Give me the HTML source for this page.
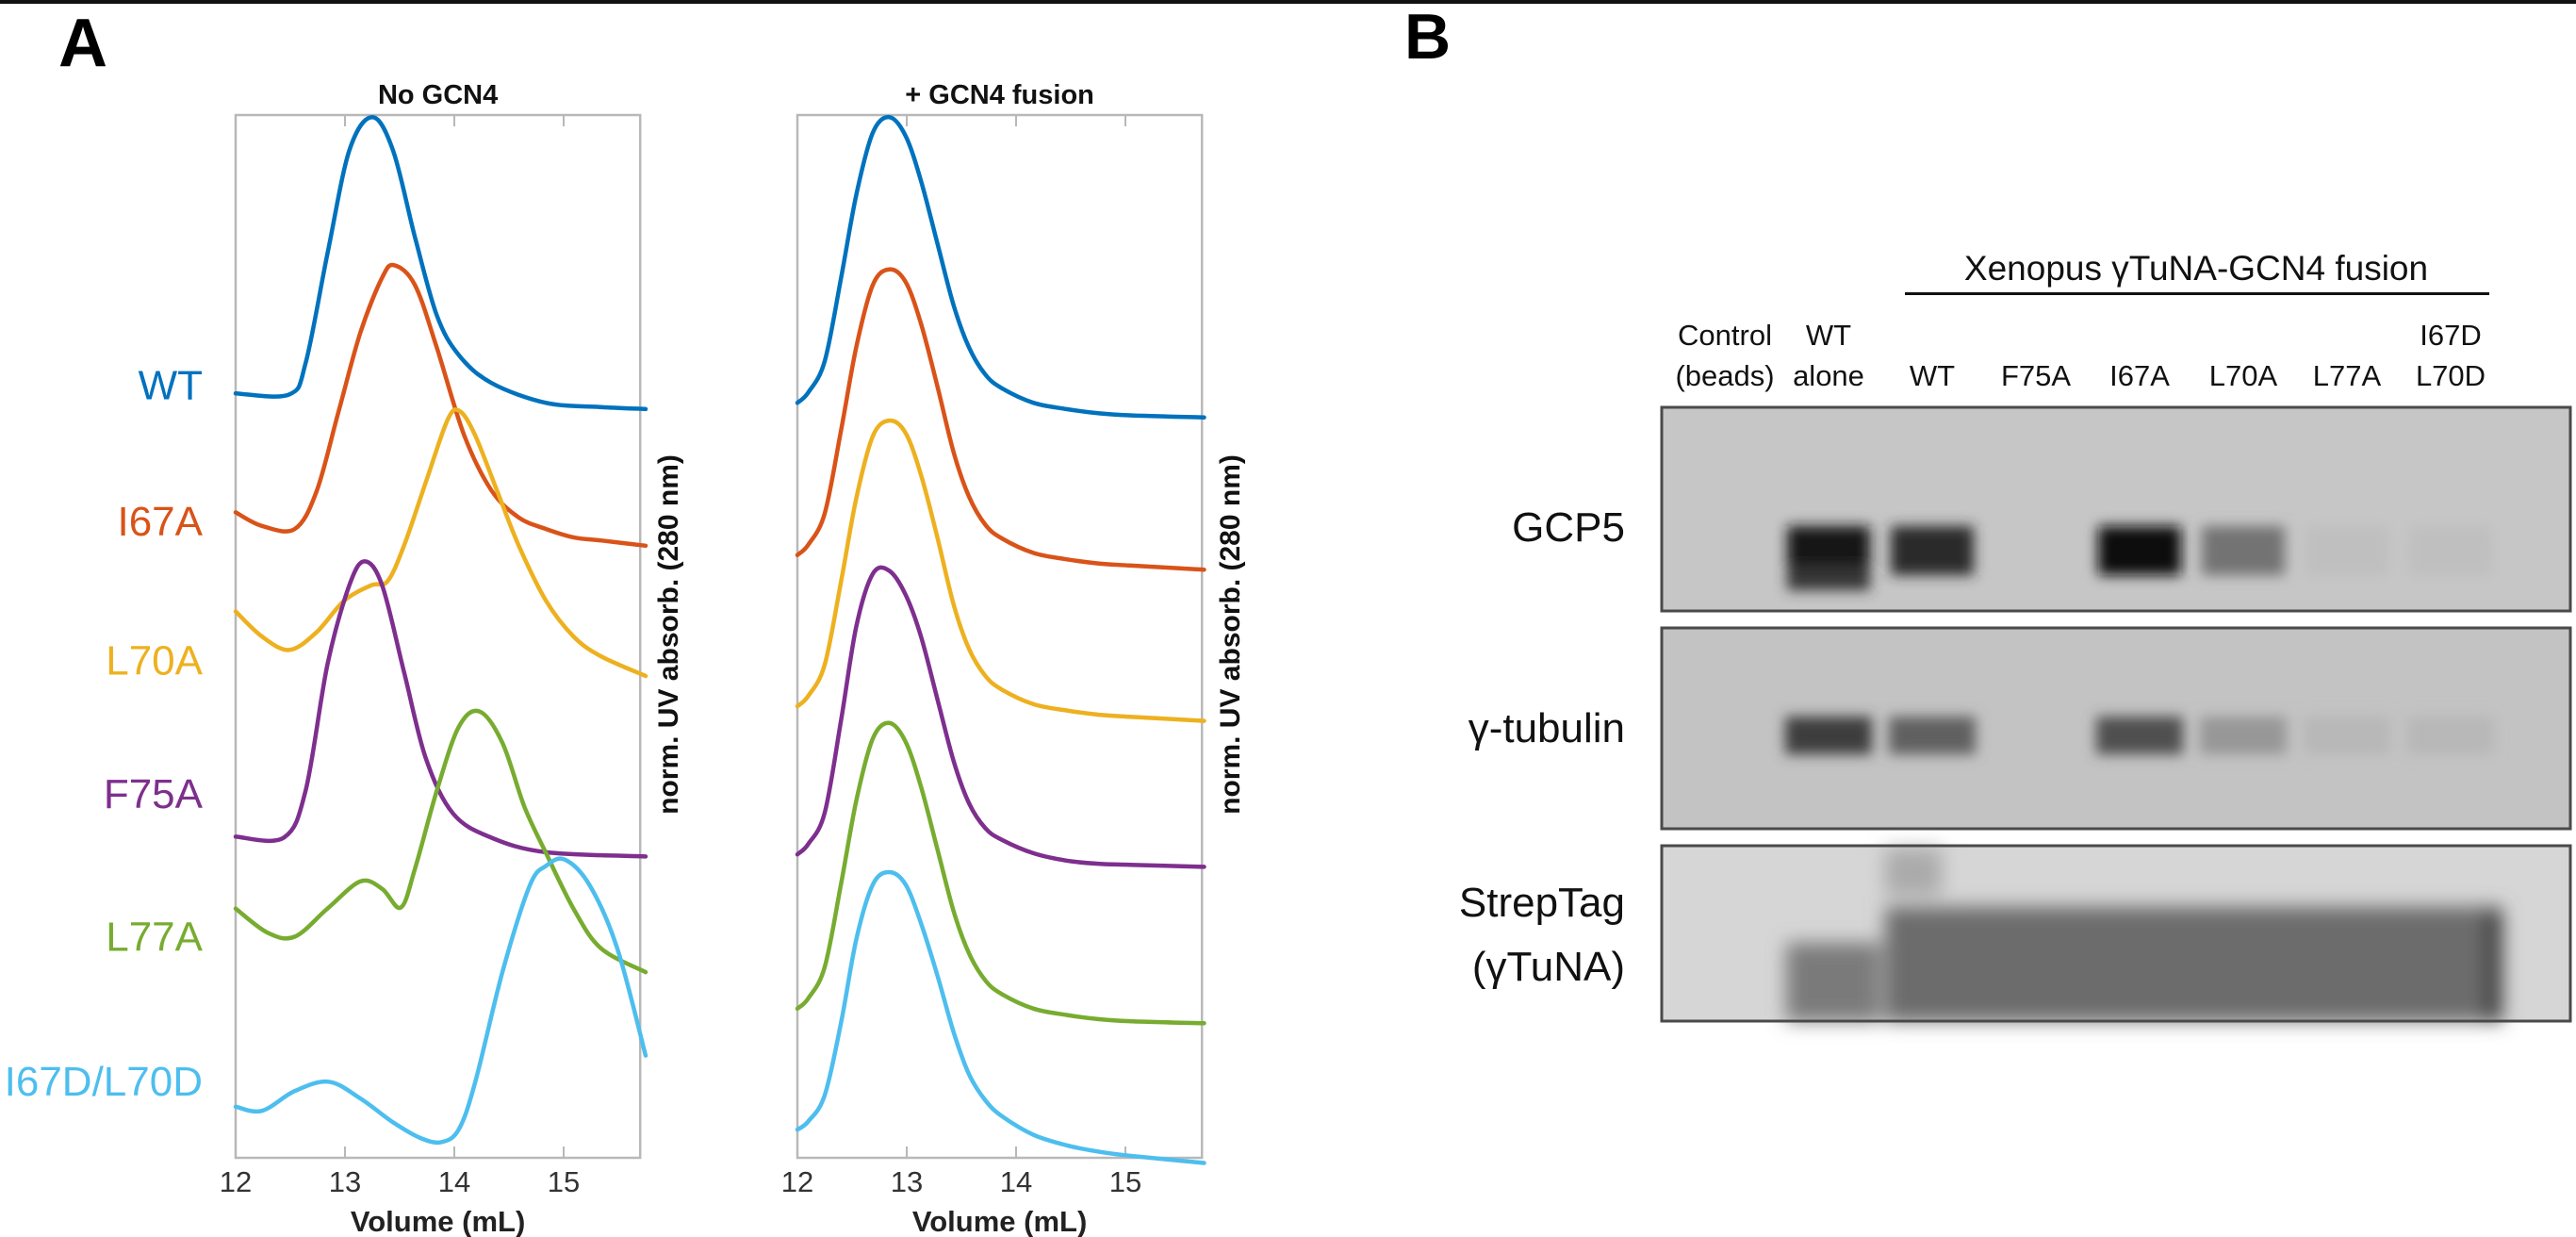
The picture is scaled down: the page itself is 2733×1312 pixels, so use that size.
<!DOCTYPE html>
<html><head><meta charset="utf-8"><style>
html,body{margin:0;padding:0;background:#fff;}
svg{display:block;font-family:"Liberation Sans","Noto Sans CJK SC",sans-serif;}
</style></head><body>
<svg id="fig" width="2733" height="1312" viewBox="0 0 2733 1312" xmlns="http://www.w3.org/2000/svg">
<defs>
<filter id="blur" x="-30%" y="-60%" width="160%" height="220%"><feGaussianBlur stdDeviation="7"/></filter>
<filter id="blur2" x="-10%" y="-30%" width="120%" height="160%"><feGaussianBlur stdDeviation="10"/></filter>
</defs>
<rect x="0" y="0" width="2733" height="4" fill="#111"/>
<text x="62" y="70" font-size="72" font-weight="bold">A</text>
<text x="1490" y="62" font-size="68" font-weight="bold">B</text>
<g id="chartA"></g>
<g id="gel"></g>
</svg>
<script>
// ---- Chart data ----
const seriesNames = ["WT","I67A","L70A","F75A","L77A","I67D/L70D"];
const seriesColors = ["#0072BD","#D95319","#EDB120","#7E2F8E","#77AC30","#4DBEEE"];
const xTicks = [12,13,14,15];
// No GCN4 panel (volume mL, normalized stacked absorbance)
const noWT_x = [12,12.49,12.64,12.84,13.04,13.25,13.44,13.64,13.84,14.04,14.34,14.84,15.34,15.75];
const noWT_y = [0.733,0.732,0.762,0.867,0.966,0.998,0.966,0.883,0.808,0.770,0.743,0.724,0.720,0.718];
const noI67A_x = [12,12.24,12.54,12.74,12.94,13.14,13.34,13.45,13.64,13.84,14.09,14.34,14.59,14.84,15.09,15.34,15.75];
const noI67A_y = [0.619,0.606,0.603,0.639,0.715,0.791,0.844,0.856,0.837,0.777,0.693,0.640,0.614,0.603,0.595,0.592,0.587];
const noL70A_x = [12,12.24,12.49,12.74,12.99,13.24,13.39,13.54,13.74,13.94,14.05,14.19,14.39,14.59,14.84,15.09,15.34,15.75];
const noL70A_y = [0.524,0.500,0.487,0.504,0.534,0.549,0.553,0.587,0.648,0.708,0.716,0.693,0.640,0.587,0.534,0.500,0.481,0.462];
const noF75A_x = [12,12.44,12.64,12.84,13.04,13.18,13.34,13.54,13.74,13.99,14.34,14.84,15.75];
const noF75A_y = [0.308,0.307,0.352,0.473,0.549,0.572,0.549,0.466,0.383,0.330,0.307,0.293,0.289];
const noL77A_x = [12,12.29,12.54,12.84,13.14,13.34,13.51,13.64,13.84,14.04,14.23,14.44,14.64,14.84,15.09,15.34,15.75];
const noL77A_y = [0.239,0.216,0.212,0.239,0.265,0.258,0.240,0.277,0.352,0.413,0.428,0.398,0.337,0.292,0.239,0.201,0.178];
const noDD_x = [12,12.24,12.54,12.85,13.14,13.44,13.69,13.88,14.04,14.19,14.44,14.69,14.84,15.01,15.24,15.49,15.75];
const noDD_y = [0.049,0.045,0.064,0.073,0.057,0.034,0.019,0.015,0.027,0.072,0.178,0.261,0.280,0.286,0.261,0.201,0.098];
// + GCN4 fusion panel
const fuse_x = [12.0,12.10,12.25,12.40,12.54,12.69,12.84,12.99,13.13,13.28,13.43,13.57,13.72,13.87,14.16,14.46,14.75,15.04,15.72];
const fuseWT_y = [0.724,0.734,0.764,0.844,0.924,0.983,0.998,0.980,0.937,0.877,0.817,0.777,0.751,0.738,0.724,0.718,0.714,0.712,0.710];
const fuseI67A_y = [0.578,0.588,0.618,0.698,0.778,0.837,0.852,0.840,0.800,0.740,0.676,0.634,0.607,0.594,0.580,0.574,0.570,0.568,0.564];
const fuseL70A_y = [0.433,0.443,0.473,0.553,0.633,0.692,0.707,0.695,0.655,0.595,0.530,0.488,0.462,0.449,0.435,0.429,0.425,0.423,0.419];
const fuseF75A_y = [0.291,0.301,0.331,0.420,0.510,0.560,0.563,0.540,0.500,0.440,0.380,0.340,0.316,0.305,0.292,0.285,0.282,0.281,0.279];
const fuseL77A_y = [0.143,0.153,0.183,0.263,0.343,0.402,0.417,0.399,0.356,0.296,0.236,0.196,0.170,0.157,0.143,0.137,0.133,0.131,0.129];
const fuseDD_y = [0.027,0.035,0.060,0.130,0.210,0.262,0.274,0.262,0.225,0.175,0.120,0.080,0.055,0.040,0.022,0.012,0.006,0.002,-0.005];
const labelValues = [0.742,0.611,0.478,0.350,0.213,0.074];

const NS = "http://www.w3.org/2000/svg";
function mk(tag, attrs, parent){ const e=document.createElementNS(NS,tag); for(const k in attrs) e.setAttribute(k,attrs[k]); parent.appendChild(e); return e; }

const plotTop=122, plotBot=1228;
function yScale(v){ return plotBot - v*(plotBot-plotTop); }
function makeX(x0){ return v => x0 + (v-12)*116; }
function smoothPath(pts){
  let d='M'+pts[0][0].toFixed(1)+','+pts[0][1].toFixed(1);
  for(let i=0;i<pts.length-1;i++){
    const p0=pts[Math.max(0,i-1)], p1=pts[i], p2=pts[i+1], p3=pts[Math.min(pts.length-1,i+2)];
    const c1x=p1[0]+(p2[0]-p0[0])/6, c1y=p1[1]+(p2[1]-p0[1])/6;
    const c2x=p2[0]-(p3[0]-p1[0])/6, c2y=p2[1]-(p3[1]-p1[1])/6;
    d+=`C${c1x.toFixed(1)},${c1y.toFixed(1)} ${c2x.toFixed(1)},${c2y.toFixed(1)} ${p2[0].toFixed(1)},${p2[1].toFixed(1)}`;
  }
  return d;
}

const chartA=document.getElementById('chartA');
function drawPanel(x0, title, xsList, ysList, key){
  const xs=makeX(x0), right=xs(15.7);
  const g=mk('g',{},chartA);
  
  
  const box=mk('rect',{x:x0,y:plotTop,width:right-x0,height:plotBot-plotTop,fill:'none',stroke:'#b8b8b8','stroke-width':2.5},g);
  
  
  xTicks.forEach(t=>{
    const X=xs(t);
    if(t>12){
      const a=mk('line',{x1:X,x2:X,y1:plotTop,y2:plotTop+12,stroke:'#b8b8b8','stroke-width':2},g);
      
      
      const b=mk('line',{x1:X,x2:X,y1:plotBot,y2:plotBot-12,stroke:'#b8b8b8','stroke-width':2},g);
      
      
    }
    const tl=mk('text',{x:X,y:1264,'font-size':31,'text-anchor':'middle',fill:'#333'},g);
    tl.textContent=t;
    
    
  });
  const xt=mk('text',{x:(x0+right)/2,y:1306,'font-size':31,'font-weight':'bold','text-anchor':'middle',fill:'#222'},g);
  xt.textContent='Volume (mL)';
  
  
  const tt=mk('text',{x:(x0+right)/2,y:110,'font-size':29,'font-weight':'bold','text-anchor':'middle',fill:'#111'},g);
  tt.textContent=title;
  
  
  const yl=mk('text',{x:0,y:0,'font-size':30,'font-weight':'bold','text-anchor':'middle',fill:'#111',transform:`translate(${right+40},673) rotate(-90)`},g);
  yl.textContent='norm. UV absorb. (280 nm)';
  
  
  ysList.forEach((ys,i)=>{
    const xv=xsList[i];
    const pts=ys.map((v,j)=>[xs(xv[j]), yScale(v)]);
    const p=mk('path',{d:smoothPath(pts),fill:'none',stroke:seriesColors[i],'stroke-width':4.5,'stroke-linejoin':'round','stroke-linecap':'round'},g);
    
    
  });
}
drawPanel(250,'No GCN4',[noWT_x,noI67A_x,noL70A_x,noF75A_x,noL77A_x,noDD_x],[noWT_y,noI67A_y,noL70A_y,noF75A_y,noL77A_y,noDD_y],'no-gcn4');
drawPanel(846,'+ GCN4 fusion',[fuse_x,fuse_x,fuse_x,fuse_x,fuse_x,fuse_x],[fuseWT_y,fuseI67A_y,fuseL70A_y,fuseF75A_y,fuseL77A_y,fuseDD_y],'gcn4-fusion');
seriesNames.forEach((n,i)=>{
  const t=mk('text',{x:215,y:yScale(labelValues[i])+16,'font-size':44,'text-anchor':'end',fill:seriesColors[i]},chartA);
  t.textContent=n;
  
  
});

// ---- Gel (panel B) ----
const laneNames1 = ["Control","WT","","","","","","I67D"];
const laneNames2 = ["(beads)","alone","WT","F75A","I67A","L70A","L77A","L70D"];
const gcp5Intensity = [0,0.95,0.85,0,1,0.45,0.03,0.03];
const tubIntensity = [0,0.75,0.55,0,0.65,0.25,0.07,0.07];
const gel=document.getElementById('gel');
function laneX(i){ return 1830 + i*110; }
function shade(v){ const c=Math.round(196-v*180); return `rgb(${c},${c},${c})`; }

const ttl=mk('text',{x:2330,y:297,'font-size':37,'text-anchor':'middle',fill:'#111'},gel);
ttl.textContent='Xenopus γTuNA-GCN4 fusion';


const ul=mk('rect',{x:2021,y:310,width:620,height:3,fill:'#111'},gel);


laneNames1.forEach((n,i)=>{ if(!n) return;
  const t=mk('text',{x:laneX(i),y:366,'font-size':31,'text-anchor':'middle',fill:'#111'},gel);
  t.textContent=n;
  
  
});
laneNames2.forEach((n,i)=>{
  const t=mk('text',{x:laneX(i),y:409,'font-size':31,'text-anchor':'middle',fill:'#111'},gel);
  t.textContent=n;
  
  
});
const panels=[{y:432,h:216,name:'gcp5-blot',bg:'#c6c6c6'},{y:666,h:213,name:'gamma-tubulin-blot',bg:'#c3c3c3'},{y:897,h:186,name:'streptag-blot',bg:'#d6d6d6'}];
const rowLabels=[['GCP5',574],['γ-tubulin',787],['StrepTag',972],['(γTuNA)',1040]];
rowLabels.forEach(r=>{
  const t=mk('text',{x:1724,y:r[1],'font-size':44,'text-anchor':'end',fill:'#111'},gel);
  t.textContent=r[0];
  
  
});
panels.forEach(p=>{
  const r=mk('rect',{x:1763,y:p.y,width:964,height:p.h,fill:p.bg},gel);
  
  
});
// GCP5 bands
const gcpBands=mk('g',{filter:'url(#blur)'},gel);
gcp5Intensity.forEach((v,i)=>{ if(v<=0) return;
  const b=mk('rect',{x:laneX(i)-44,y:558,width:88,height:52,fill:shade(v)},gcpBands);
  
  
});
const ab=mk('rect',{x:laneX(1)-44,y:600,width:88,height:26,fill:shade(0.8)},gcpBands);


// tubulin bands
const tubBands=mk('g',{filter:'url(#blur)'},gel);
tubIntensity.forEach((v,i)=>{ if(v<=0) return;
  const b=mk('rect',{x:laneX(i)-46,y:760,width:92,height:40,fill:shade(v)},tubBands);
  
  
});
// StrepTag smear
const sg=mk('g',{filter:'url(#blur2)'},gel);
const s1=mk('rect',{x:2000,y:962,width:655,height:121,fill:'#6c6c6c'},sg);


const s0=mk('rect',{x:2000,y:900,width:60,height:50,fill:'#aaaaaa'},sg);


const s2=mk('rect',{x:1895,y:1000,width:100,height:83,fill:'#7a7a7a'},sg);


const s3=mk('rect',{x:2638,y:965,width:14,height:118,fill:'#222'},sg);


panels.forEach(p=>{
  const r=mk('rect',{x:1763,y:p.y,width:964,height:p.h,fill:'none',stroke:'#4a4a4a','stroke-width':3},gel);
  
  
});
</script>
</body></html>
